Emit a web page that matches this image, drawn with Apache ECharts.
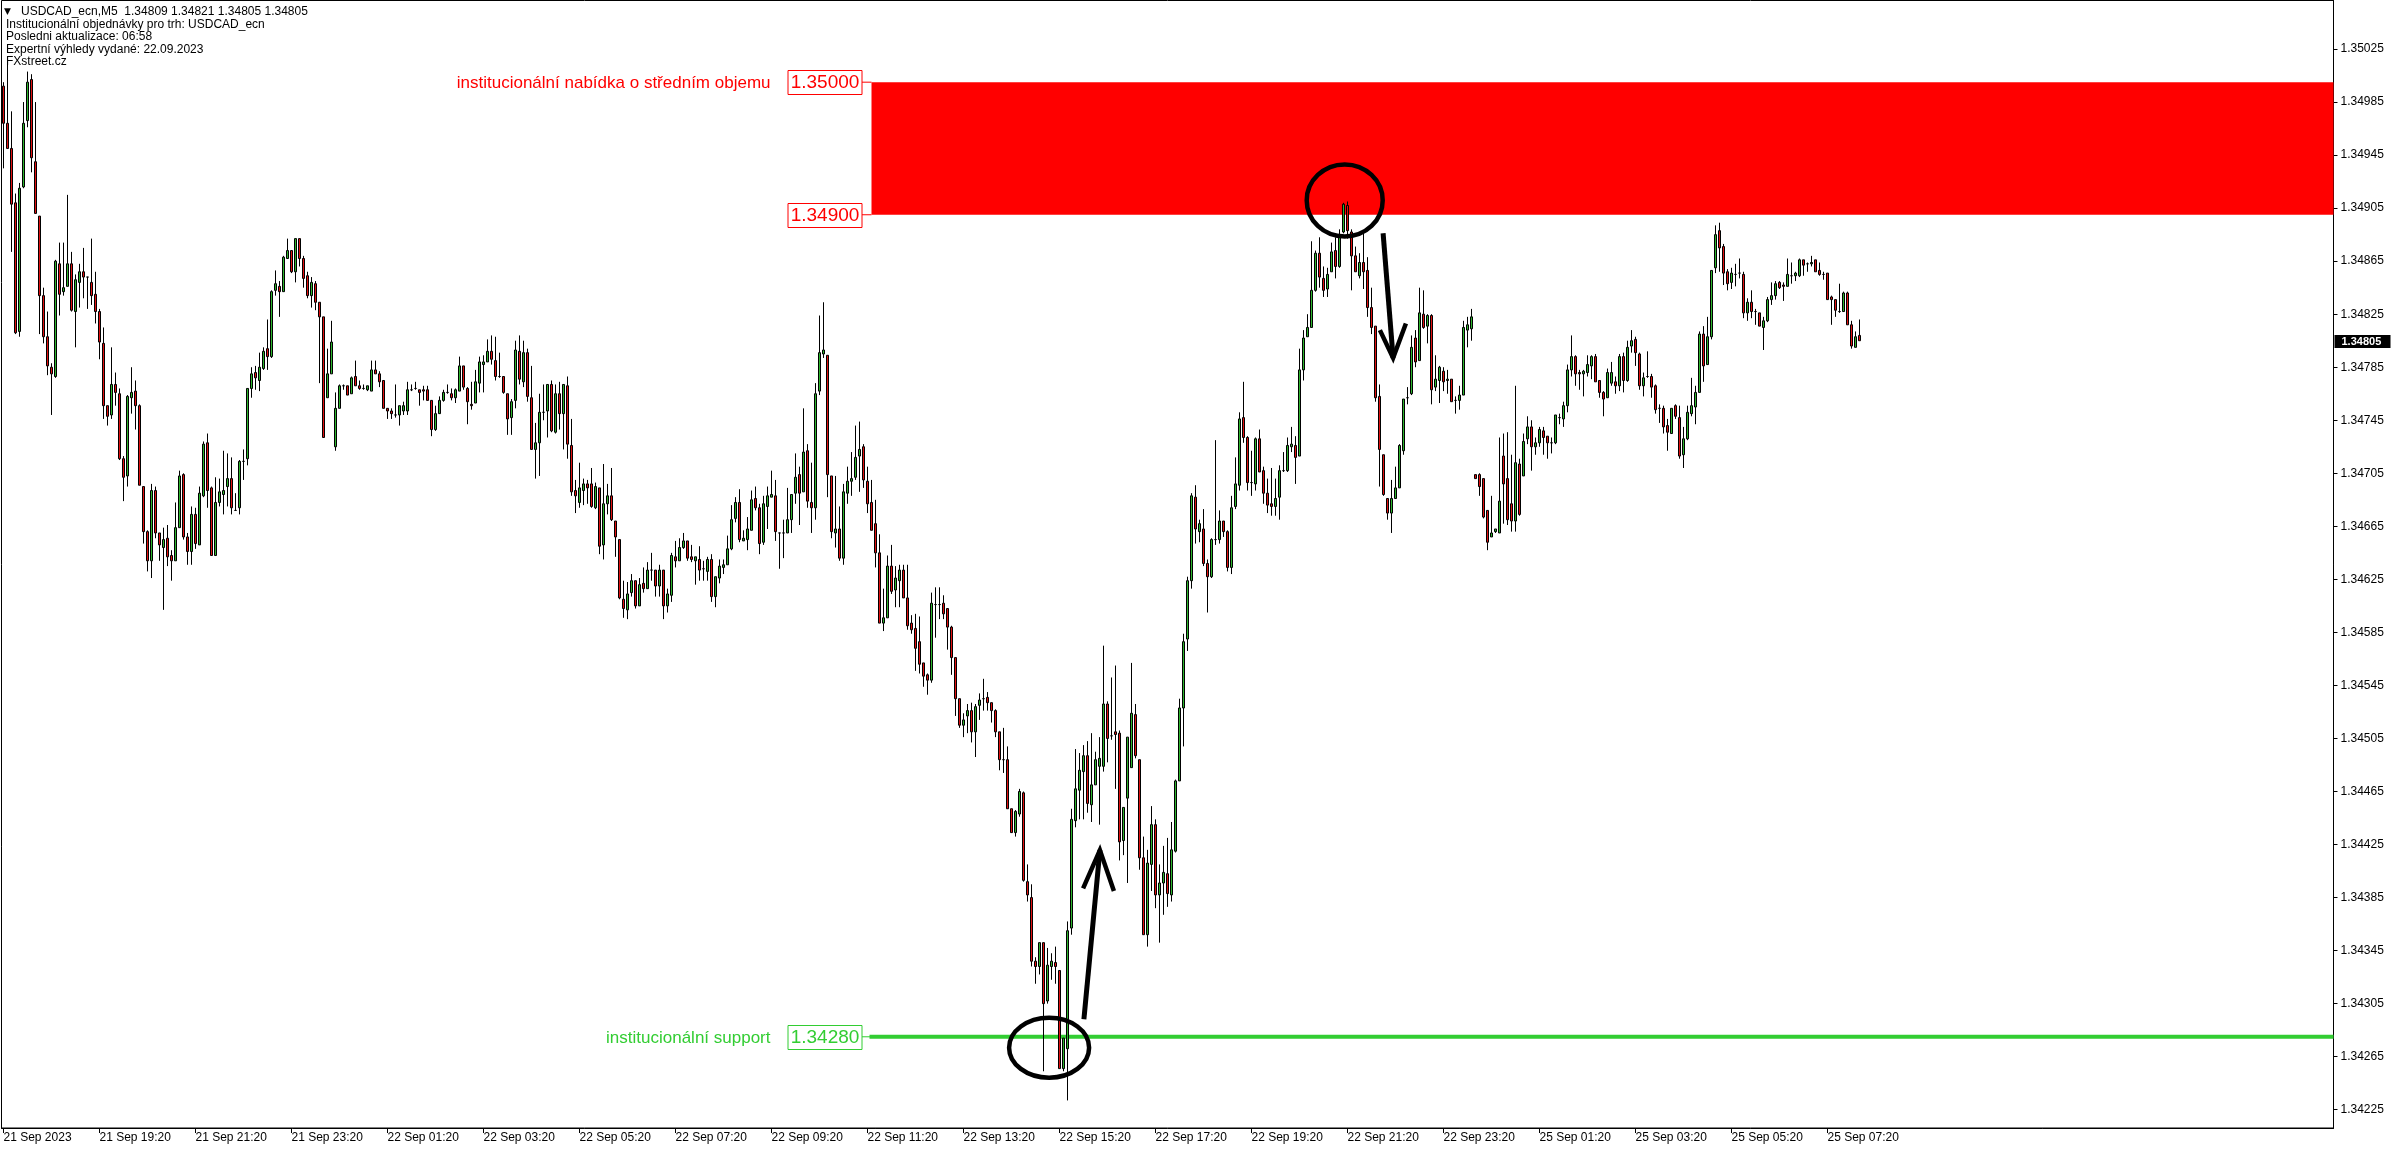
<!DOCTYPE html>
<html><head><meta charset="utf-8">
<script src="https://cdn.jsdelivr.net/npm/echarts@6/dist/echarts.min.js"></script>
<style>html,body{margin:0;padding:0;background:#fff}#c{width:2396px;height:1154px}</style>
</head><body><div id="c"></div>
<script>
// ---------- DATA ----------
// USDCAD M5 bars, values in points (0.00001) above 1.34000: [open, high, low, close]
const BASE = 1.34, PT = 0.00001;
const bars = [
[997,1000,935,969],[969,1016,950,950],[950,978,872,908],[909,916,810,811],[812,924,808,920],[921,985,920,969],[971,1008,966,1000],[1002,1006,932,943],
[940,985,901,901],[899,899,810,839],[839,845,803,808],[808,827,779,786],[785,788,749,780],[778,866,777,865],[863,879,824,840],[842,879,839,845],
[846,915,846,863],[863,872,827,828],[827,855,800,851],[849,863,830,857],[857,875,837,853],[853,853,829,853],[849,882,832,839],[840,857,818,827],
[827,829,791,804],[803,815,746,756],[756,756,741,748],[749,800,746,772],[772,781,756,766],[765,769,715,716],[716,718,684,702],[703,764,695,763],
[762,785,750,766],[767,775,738,756],[756,757,696,696],[695,695,652,661],[661,662,631,639],[639,697,626,692],[692,695,656,660],[660,660,639,651],
[649,664,602,655],[656,666,635,642],[643,647,624,639],[639,683,639,664],[664,707,664,703],[704,705,655,657],[657,660,636,646],[646,680,636,674],
[674,679,648,652],[651,695,651,690],[688,729,687,727],[728,735,679,692],[694,695,643,643],[643,702,643,683],[683,701,680,691],[689,722,674,692],
[695,720,680,701],[701,717,674,679],[677,690,677,677],[679,715,674,714],[714,723,700,714],[716,769,711,769],[769,785,762,780],[781,786,768,777],
[775,796,767,785],[784,800,783,797],[799,821,783,793],[793,843,792,842],[843,858,839,848],[846,850,823,842],[842,869,842,868],[867,882,867,873],
[873,873,856,857],[857,882,849,882],[882,882,861,867],[867,869,845,852],[854,857,837,839],[839,853,830,849],
[848,850,828,834],[834,834,773,823],[823,823,732,732],[762,799,762,780],[780,820,780,804],[725,766,722,754],[754,772,754,771],[771,772,768,771],
[771,771,764,764],[765,778,765,777],[778,790,771,771],[771,775,768,769],[769,772,768,769],[768,771,767,771],[767,790,767,783],[783,790,780,780],
[780,782,770,774],[775,775,754,754],[754,754,746,752],[752,754,746,750],[749,772,747,749],[749,756,741,756],[752,759,749,756],[752,774,749,768],
[768,772,767,768],[769,774,768,769],[768,768,756,766],[768,771,760,767],[768,771,760,760],[760,760,733,738],[738,756,737,750],[750,763,750,760],
[760,768,759,766],[766,772,765,766],[765,769,760,762],[762,769,758,768],[767,793,767,786],[786,786,768,770],[769,770,742,759],[757,774,753,756],
[758,783,758,774],[773,793,766,789],[787,794,766,789],[789,806,789,797],[797,809,787,791],[790,808,775,778],[778,796,777,778],[778,778,765,766],
[765,765,734,746],[747,761,734,759],[760,805,754,798],[797,809,772,776],[774,805,770,796],[796,799,759,763],[762,786,723,723],[723,743,701,728],
[728,765,703,751],[751,772,745,751],[752,772,732,772],[772,775,736,737],[736,772,735,765],[765,774,738,750],[750,772,723,772],[771,778,716,727],
[726,746,688,691],[692,700,675,688],[683,713,679,694],[692,701,681,697],[697,700,682,694],[697,709,679,680],[679,698,678,695],[694,694,644,650],
[651,712,640,682],[682,697,674,688],[688,709,669,670],[669,669,642,657],
[655,655,610,611],[610,624,596,603],[602,623,595,614],[615,629,612,624],[624,624,603,605],[605,626,605,621],[622,634,615,618],[618,638,618,632],
[632,645,624,632],[632,632,612,620],[620,636,612,632],[632,632,595,605],[605,618,600,614],[613,645,608,643],[642,654,634,639],[639,656,639,649],
[649,660,648,654],[654,654,639,641],[642,651,638,640],[639,642,621,642],[640,650,624,632],[633,639,624,633],[631,642,624,640],[640,644,608,612],
[612,627,604,627],[626,640,622,635],[634,640,629,636],[636,658,636,648],[648,681,647,670],[671,687,668,683],[683,693,653,655],[654,662,654,656],
[655,672,647,663],[662,692,662,685],[686,695,677,679],[679,682,644,652],[653,688,651,682],[680,695,663,688],[687,707,687,689],[688,700,654,661],
[660,660,633,660],[660,670,641,660],[660,694,660,670],[670,689,660,689],[690,720,682,702],[704,710,666,690],[691,754,691,721],[722,727,679,684],
[683,713,660,679],[679,773,670,765],[767,824,764,796],[795,834,792,798],[794,794,687,704],[703,703,656,661],[660,703,649,663],[663,680,639,641],
[641,697,636,691],[690,710,682,699],[699,721,688,701],[702,741,700,717],[718,744,691,723],[725,727,694,700],[699,710,675,682],[683,700,662,662],
[667,685,634,645],[645,659,592,592],[592,618,586,596],[596,643,596,635],[635,651,614,616],[617,635,604,626],[624,636,604,632],[632,636,611,611],
[611,636,587,590],[592,598,584,587],[588,599,556,573],[578,597,554,561],[562,562,544,552],
[553,554,538,549],[549,615,547,607],[606,619,581,606],[606,619,595,606],[607,613,595,599],[603,603,572,589],[589,590,553,566],[566,566,522,535],
[535,535,513,515],[515,524,506,519],[522,531,509,526],[526,532,502,510],[510,531,491,529],[530,539,519,534],[535,550,526,535],[536,540,526,532],
[532,532,517,526],[526,527,506,510],[510,510,481,489],[489,513,479,489],[489,499,452,452],[452,452,434,434],[434,451,431,450],[448,467,446,465],
[464,465,397,398],[397,410,382,387],[385,395,333,337],[337,340,320,333],[333,351,327,351],[351,351,254,305],[307,347,305,334],[333,343,323,337],
[336,348,320,333],[330,330,256,256],[256,279,254,279],[271,367,232,360],[362,452,357,444],[443,497,438,467],[466,494,444,481],[480,500,444,492],
[492,503,449,456],[455,509,442,470],[470,495,470,489],[484,506,440,490],[484,575,480,531],[531,533,487,505],[507,551,504,507],[510,560,467,508],
[509,511,413,427],[428,453,417,453],[460,506,396,506],[483,562,483,524],[523,531,490,492],[489,489,406,415],[415,431,357,357],[357,421,348,411],
[410,454,390,440],[440,444,377,387],[387,410,351,396],[396,424,372,404],[403,430,378,388],[387,442,382,421],[420,474,419,473],[473,535,473,528],
[528,584,499,578],[580,627,571,624],[624,690,618,688],[687,696,652,663],[661,670,653,667],[663,678,635,637],[637,640,600,627],[627,656,626,655],
[655,730,651,655],[655,677,652,669],[669,669,657,661],[661,662,631,634],[634,688,629,679],
[680,717,678,697],[696,751,692,746],[747,774,728,732],[732,733,692,698],[698,722,688,698],[697,732,692,731],[731,738,706,706],[707,710,682,690],
[690,701,675,681],[682,709,673,680],[680,701,673,686],[687,711,670,707],[707,721,706,707],[707,732,706,726],[725,740,721,727],[726,733,697,717],
[718,799,718,783],[783,813,775,807],[808,825,808,815],[815,880,815,843],[843,873,842,871],[871,883,845,853],[852,861,838,843],[844,860,838,855],
[857,879,857,872],[873,883,852,861],[861,889,860,883],[887,909,886,908],[907,910,882,888],[887,889,843,869],[869,876,857,857],[854,871,852,864],
[864,886,844,857],[858,868,823,830],[830,845,810,815],[816,816,759,762],[763,772,695,723],[719,719,688,689],[686,686,670,675],[675,700,660,686],
[686,710,686,694],[694,727,694,726],[722,761,719,761],[762,770,757,762],[765,809,764,800],[807,813,785,789],[790,845,790,826],[825,843,814,815],
[816,825,803,824],[824,825,757,768],[770,794,767,776],[775,786,758,785],[782,785,767,774],[775,783,765,776],[776,776,759,759],[760,763,750,760],
[760,771,753,764],[764,820,764,815],[813,823,800,817],[814,829,805,823],
[704,704,701,701],[704,705,688,695],[701,701,671,672],[677,677,647,653],[657,688,657,660],[661,663,660,663],[660,732,660,684],[718,735,667,697],
[701,736,666,670],[682,719,661,669],[669,771,661,713],[712,716,673,674],[703,735,703,729],[731,748,727,740],[740,745,707,725],[725,732,719,728],
[728,740,725,738],[737,740,719,732],[733,733,716,728],[728,732,720,728],[728,749,727,749],[747,750,742,747],[746,759,740,756],[756,787,751,783],
[783,809,778,793],[793,794,771,780],[781,783,768,780],[780,783,763,782],[781,794,778,787],[786,794,776,793],[793,795,774,774],[775,775,762,766],
[766,767,748,761],[762,784,762,781],[773,789,771,781],[774,778,765,771],[771,795,767,793],[793,796,766,775],[775,805,774,800],[801,813,796,805],
[806,808,786,796],[795,796,768,771],[771,781,763,777],[778,797,777,778],[778,780,762,770],[771,772,750,753],[754,757,743,754],[754,756,735,740],
[741,746,722,736],[735,754,735,754],[756,757,746,748],[747,756,716,718],[719,740,709,731],[731,756,730,751],[750,777,748,756],[755,771,742,766],
[766,812,766,810],[810,816,774,786],[787,823,787,808],[808,858,806,858],[860,892,856,885],[888,894,857,875],[876,878,847,856],[857,859,843,848],
[849,860,844,856],[855,863,846,855],[856,867,852,856],[855,857,822,826],[826,837,820,834],[834,843,822,827],[827,829,817,827],[826,826,816,816],
[815,823,798,820],[820,838,819,836],[836,849,832,839],[839,850,836,848],[849,850,844,845],[847,849,835,846],[846,867,846,855],[854,864,848,854],
[854,857,850,856],[854,867,853,866],[866,866,854,862],[863,864,857,863],[863,869,861,864],[866,866,857,857],[858,864,854,855],[855,857,851,855],
[856,856,836,836],[838,839,817,836],[836,836,823,828],[827,848,826,827],[827,842,827,841],[841,842,817,817],[817,820,799,801],[800,812,800,808],
[809,821,805,805]
];
const xTickLabels = ['21 Sep 2023','21 Sep 19:20','21 Sep 21:20','21 Sep 23:20','22 Sep 01:20','22 Sep 03:20','22 Sep 05:20','22 Sep 07:20',
  '22 Sep 09:20','22 Sep 11:20','22 Sep 13:20','22 Sep 15:20','22 Sep 17:20','22 Sep 19:20','22 Sep 21:20','22 Sep 23:20',
  '25 Sep 01:20','25 Sep 03:20','25 Sep 05:20','25 Sep 07:20'];
const BARS_PER_LABEL = 24;
const yTicks = [1.34225,1.34265,1.34305,1.34345,1.34385,1.34425,1.34465,1.34505,1.34545,1.34585,1.34625,
  1.34665,1.34705,1.34745,1.34785,1.34825,1.34865,1.34905,1.34945,1.34985,1.35025];
const lastPrice = 1.34805;
const supplyZone = [1.34900, 1.35000];
const supportLevel = 1.34280;
const levelStartBar = 217;
const supplyText = 'institucionální nabídka o středním objemu';
const supportText = 'institucionální support';
const headerTitle = 'USDCAD_ecn,M5  1.34809 1.34821 1.34805 1.34805';
const headerLines = ['Institucionální objednávky pro trh: USDCAD_ecn','Posledni aktualizace: 06:58','Expertní výhledy vydané: 22.09.2023','FXstreet.cz'];
// annotation anchors: [bar index, price]
const circleTop = [335.3, 1.349108];
const circleBottom = [261.4, 1.342718];
const arrowUp = {from: [270.1, 1.342933], tip: [274.1, 1.344208], barbs: [[269.9, 1.34392], [277.6, 1.34390]]};
const arrowDown = {from: [344.9, 1.34886], tip: [347.4, 1.34792], barbs: [[344.1, 1.34813], [350.6, 1.34818]]};

// ---------- CHART ----------
const N_SLOTS = 583;
const GRID = {left: 1.5, top: 0.5, width: 2332, height: 1127.5};
const Y_MIN = 1.342112, Y_MAX = 1.350616;
const FONT = "'Liberation Sans', Arial, sans-serif";
const categories = Array.from({length: N_SLOTS}, (_, i) => i);
const candleData = bars.map(b => [+(BASE + b[0]*PT).toFixed(5), +(BASE + b[3]*PT).toFixed(5), +(BASE + b[2]*PT).toFixed(5), +(BASE + b[1]*PT).toFixed(5)]);
const isLabelIdx = (idx) => idx % BARS_PER_LABEL === 0 && idx / BARS_PER_LABEL < xTickLabels.length;

const chart = echarts.init(document.getElementById('c'), null, {renderer: 'canvas'});
chart.setOption({
  animation: false,
  backgroundColor: '#ffffff',
  grid: Object.assign({show: true, borderColor: '#000', borderWidth: 1, backgroundColor: 'transparent'}, GRID),
  xAxis: {
    type: 'category', data: categories, boundaryGap: true,
    axisLine: {show: true, lineStyle: {color: '#000', width: 1}},
    axisTick: {show: true, interval: (i) => isLabelIdx(i), alignWithLabel: true, length: 5, lineStyle: {color: '#000'}},
    axisLabel: {show: true, interval: (i) => isLabelIdx(i), formatter: (v, i) => xTickLabels[i / BARS_PER_LABEL] || '',
      align: 'left', margin: 4, fontSize: 12, color: '#000', fontFamily: FONT},
    splitLine: {show: false}
  },
  yAxis: {
    type: 'value', position: 'right', min: Y_MIN, max: Y_MAX, scale: true,
    axisLine: {show: true, lineStyle: {color: '#000', width: 1}},
    axisTick: {show: true, customValues: yTicks, length: 4, lineStyle: {color: '#000'}},
    axisLabel: {show: true, customValues: yTicks, formatter: (v) => v.toFixed(5), margin: 7, fontSize: 12, color: '#000', fontFamily: FONT},
    splitLine: {show: false}
  },
  series: [{
    type: 'candlestick', data: candleData, barWidth: 2, z: 5,
    itemStyle: {color: '#2db52d', color0: '#e01010', borderColor: '#000', borderColor0: '#000', borderColorDoji: '#000', borderWidth: 1},
    emphasis: {disabled: true}
  }]
});

function px(p) {
  const bar = p[0], price = p[1];
  const i0 = Math.floor(bar), f = bar - i0;
  const a = chart.convertToPixel({gridIndex: 0}, [i0, price]);
  const b = chart.convertToPixel({gridIndex: 0}, [i0 + 1, price]);
  return [a[0] + (b[0] - a[0]) * f, a[1]];
}
const right = GRID.left + GRID.width;
const zx = px([levelStartBar, supplyZone[1]])[0];
const yTop = px([levelStartBar, supplyZone[1]])[1];
const yBot = px([levelStartBar, supplyZone[0]])[1];
const ySup = px([levelStartBar, supportLevel])[1];
const RED = '#ff0000', GREEN = '#32cd32';
const BOX_W = 74, BOX_H = 24, BOX_GAP = 10, TEXT_GAP = 17;
const els = [];
els.push({type: 'rect', z: 1, shape: {x: zx, y: yTop, width: right - zx, height: yBot - yTop}, style: {fill: RED}});
els.push({type: 'line', z: 1, shape: {x1: zx - 2, y1: ySup, x2: right, y2: ySup}, style: {stroke: GREEN, lineWidth: 4}});
function valueBox(y, label, color) {
  const bx = zx - BOX_GAP - BOX_W;
  els.push({type: 'line', z: 20, shape: {x1: bx + BOX_W, y1: y, x2: zx, y2: y}, style: {stroke: color, lineWidth: 1}});
  els.push({type: 'rect', z: 20, shape: {x: bx + 0.5, y: Math.round(y - BOX_H / 2) + 0.5, width: BOX_W, height: BOX_H}, style: {fill: '#fff', stroke: color, lineWidth: 1}});
  els.push({type: 'text', z: 21, style: {text: label, x: bx + BOX_W / 2 + 0.5, y: y + 1, fill: color, font: '19px ' + FONT, align: 'center', verticalAlign: 'middle'}});
}
valueBox(yTop, supplyZone[1].toFixed(5), RED);
valueBox(yBot, supplyZone[0].toFixed(5), RED);
valueBox(ySup, supportLevel.toFixed(5), GREEN);
const textRight = zx - BOX_GAP - BOX_W - TEXT_GAP;
els.push({type: 'text', z: 21, style: {text: supplyText, x: textRight, y: yTop + 1, fill: RED, font: '17px ' + FONT, align: 'right', verticalAlign: 'middle'}});
els.push({type: 'text', z: 21, style: {text: supportText, x: textRight, y: ySup + 2, fill: GREEN, font: '17px ' + FONT, align: 'right', verticalAlign: 'middle'}});
// circles and arrows
const c1 = px(circleTop), c2 = px(circleBottom);
els.push({type: 'ellipse', z: 30, shape: {cx: c1[0], cy: c1[1], rx: 38, ry: 36}, style: {fill: 'none', stroke: '#000', lineWidth: 4.5}});
els.push({type: 'ellipse', z: 30, shape: {cx: c2[0], cy: c2[1], rx: 40, ry: 30}, style: {fill: 'none', stroke: '#000', lineWidth: 4.5}});
[arrowUp, arrowDown].forEach(a => {
  const f = px(a.from), t = px(a.tip), b1 = px(a.barbs[0]), b2 = px(a.barbs[1]);
  els.push({type: 'polyline', z: 30, shape: {points: [f, t]}, style: {stroke: '#000', lineWidth: 5, fill: null}});
  els.push({type: 'polyline', z: 30, shape: {points: [b1, t, b2]}, style: {stroke: '#000', lineWidth: 4.5, fill: null, lineJoin: 'miter'}});
});
// last price tag
const yLast = px([0, lastPrice])[1];
els.push({type: 'rect', z: 40, shape: {x: right + 1, y: Math.round(yLast) - 6, width: 56, height: 13}, style: {fill: '#000'}});
els.push({type: 'text', z: 41, style: {text: lastPrice.toFixed(5), x: right + 8, y: Math.round(yLast) + 0.5, fill: '#fff', font: 'bold 11px ' + FONT, align: 'left', verticalAlign: 'middle'}});
// header
els.push({type: 'text', z: 50, style: {text: '▼', x: 4, y: 12, fill: '#000', font: '9px DejaVu Sans', align: 'left', verticalAlign: 'middle'}});
els.push({type: 'text', z: 50, style: {text: headerTitle, x: 21, y: 12, fill: '#000', font: '12px ' + FONT, align: 'left', verticalAlign: 'middle'}});
headerLines.forEach((t, i) => {
  els.push({type: 'text', z: 50, style: {text: t, x: 6, y: 24.5 + 12.5 * i, fill: '#000', font: '12px ' + FONT, align: 'left', verticalAlign: 'middle'}});
});
chart.setOption({graphic: {elements: els}});
</script>
</body></html>
